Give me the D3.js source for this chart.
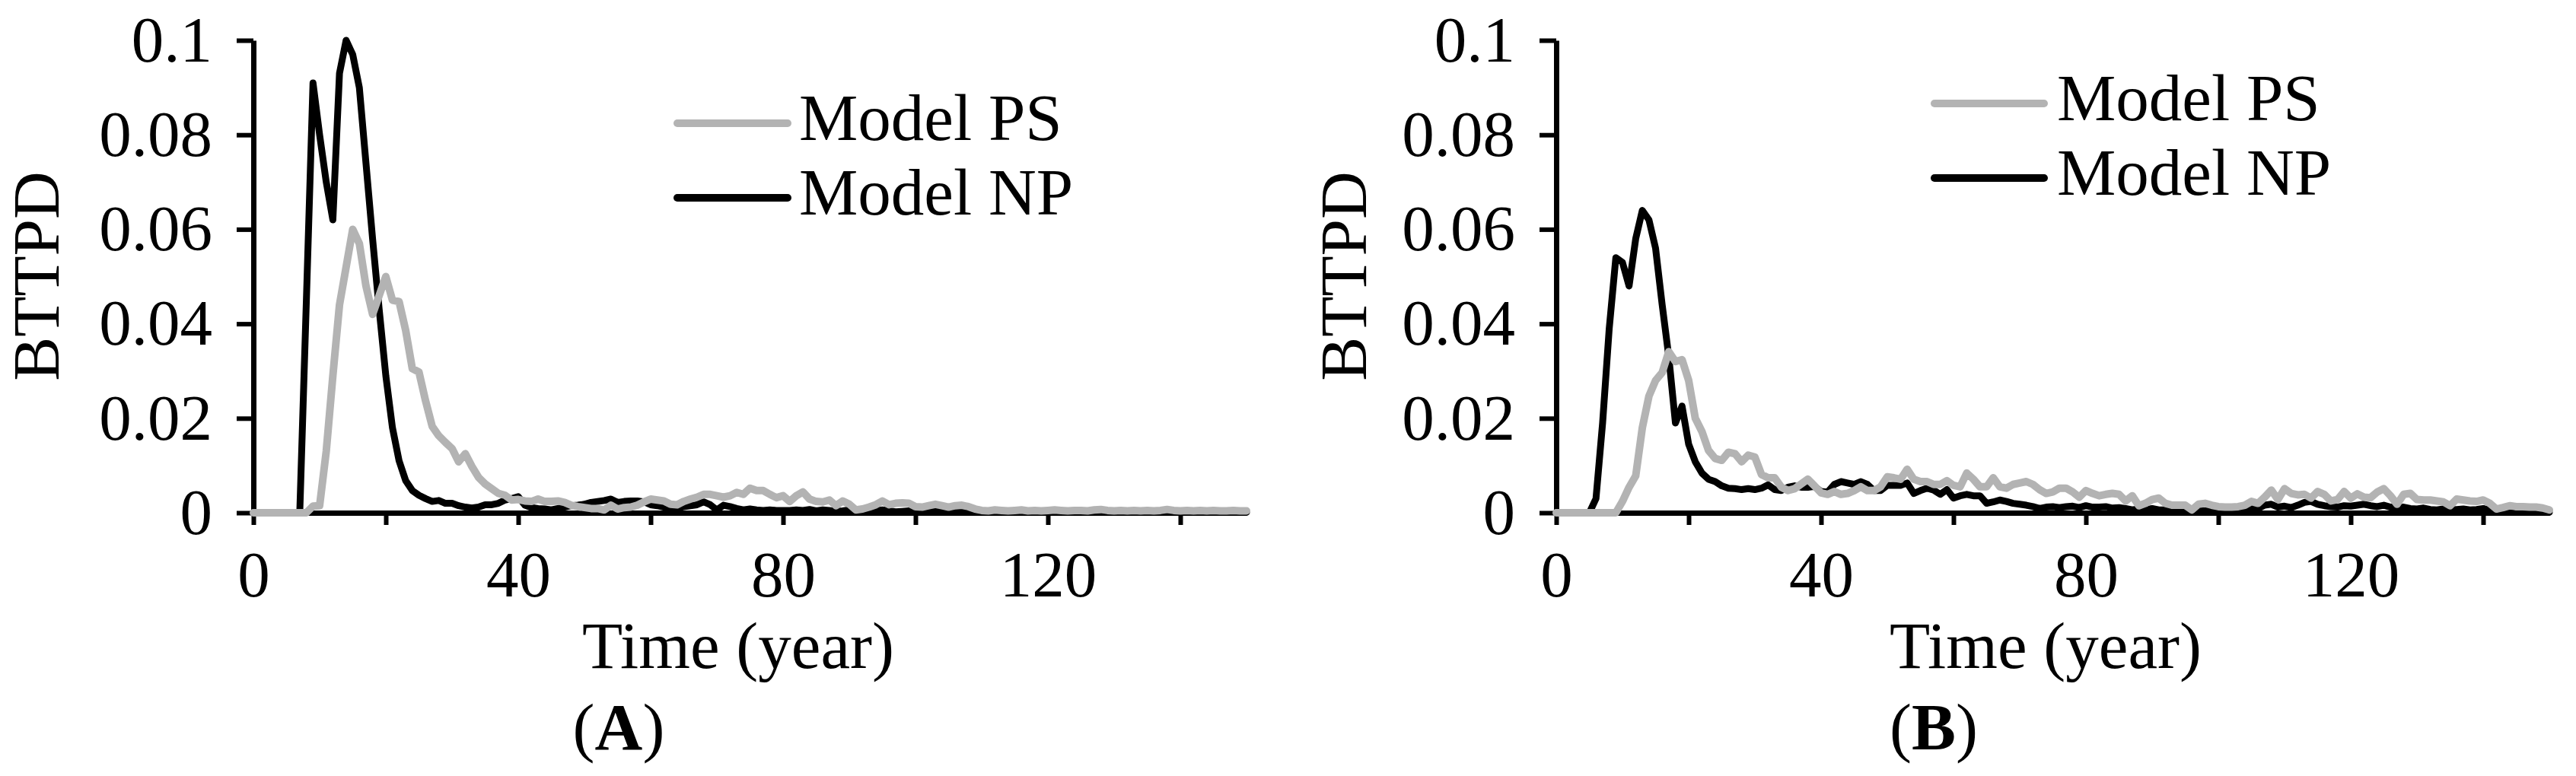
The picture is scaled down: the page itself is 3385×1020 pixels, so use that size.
<!DOCTYPE html>
<html>
<head>
<meta charset="utf-8">
<script src="https://cdn.jsdelivr.net/npm/d3@7"></script>
<style>
  body { margin: 0; background: #fff; }
  svg text { font-family: "Liberation Serif", "Times New Roman", serif; }
</style>
</head>
<body>
<div id="chart"></div>
<script>
// yearly time steps
const years = d3.range(0, 151);

const xTicks = [0, 20, 40, 60, 80, 100, 120, 140];
const xTickLabels = [0, 40, 80, 120];
const yTicks = [0, 0.02, 0.04, 0.06, 0.08, 0.1];
const yTickLabels = ['0', '0.02', '0.04', '0.06', '0.08', '0.1'];
const seriesNames = ['Model PS', 'Model NP'];

// panel A
const psA = [0,0,0,0,0,0,0,0,0,
  0.0014,0.0015,0.013,0.029,0.044,0.052,0.060,0.057,0.048,0.042,0.046,
  0.050,0.045,0.0447,0.0386,0.0305,0.0298,0.0237,0.0183,0.0163,0.0149,
  0.0136,0.0108,0.0125,0.0098,0.0075,0.0061,0.0051,0.0041,0.0037,0.0027,
  0.0028,0.0025,0.0024,0.0029,0.0024,0.0024,0.0025,0.0022,0.0016,0.0013,
  0.0011,0.0009,0.0009,0.0006,0.0016,0.0008,0.0011,0.0012,0.0016,0.0023,
  0.0029,0.0027,0.0025,0.0018,0.0017,0.0024,0.0029,0.0033,0.0039,0.0039,
  0.0036,0.0033,0.0036,0.0043,0.0039,0.0052,0.0047,0.0047,0.0039,0.0032,
  0.0036,0.0024,0.0036,0.0044,0.0029,0.0024,0.0023,0.0027,0.0015,0.0025,
  0.0018,0.0006,0.0008,0.0012,0.0017,0.0025,0.0017,0.0020,0.0021,0.0020,
  0.0013,0.0012,0.0015,0.0018,0.0015,0.0012,0.0015,0.0016,0.0013,0.0008,
  0.0005,0.0004,0.0006,0.0005,0.0004,0.0005,0.0006,0.0004,0.0005,0.0004,
  0.0005,0.0006,0.0005,0.0004,0.0005,0.0005,0.0004,0.0006,0.0007,0.0005,
  0.0004,0.0005,0.0004,0.0005,0.0004,0.0005,0.0004,0.0005,0.0007,0.0005,
  0.0004,0.0005,0.0004,0.0005,0.0004,0.0005,0.0004,0.0004,0.0005,0.0004,0.0004];

const npA = [0,0,0,0,0,0,0,0,
  0.045,0.091,0.080,0.070,0.062,0.093,0.100,0.097,0.090,0.074,0.058,0.043,
  0.029,0.018,0.011,0.0068,0.0047,0.0037,0.0030,0.0024,0.0026,0.0020,
  0.0020,0.0015,0.0012,0.0010,0.0012,0.0017,0.0017,0.0020,0.0027,0.0030,
  0.0034,0.0016,0.0011,0.0009,0.0008,0.0006,0.0009,0.0012,0.0015,0.0016,
  0.0018,0.0022,0.0024,0.0026,0.0029,0.0022,0.0024,0.0025,0.0025,0.0023,
  0.0017,0.0015,0.0012,0.0008,0.0009,0.0013,0.0015,0.0017,0.0023,0.0017,
  0.0006,0.0016,0.0013,0.0009,0.0006,0.0008,0.0006,0.0005,0.0006,0.0005,
  0.0005,0.0005,0.0006,0.0005,0.0007,0.0004,0.0006,0.0005,0.0003,0.0004,
  0.0006,0.0004,0.0003,0.0005,0.0004,0.0006,0.0004,0.0002,0.0003,0.0004,
  0.0003,0.0005,0.0004,0.0003,0.0002,0.0003,0.0002,0.0003,0.0002,0.0003,
  0.0002,0.0001,0.0003,0.0002,0.0002,0.0001,0.0002,0.0003,0.0002,0.0001,
  0.0002,0.0002,0.0001,0.0002,0.0003,0.0002,0.0001,0.0002,0.0001,0.0002,
  0.0001,0.0002,0.0001,0.0001,0.0002,0.0001,0.0001,0.0002,0.0001,0.0001,
  0.0001,0.0001,0.0002,0.0001,0.0001,0.0001,0.0001,0.0001,0.0001,0.0001,0.0001];

// panel B
const psB = [0,0,0,0,0,0,0,0,0,0,
  0.0024,0.0054,0.0078,0.018,0.0247,0.028,0.0297,0.0341,0.032,0.0324,
  0.028,0.020,0.0172,0.0132,0.0115,0.0111,0.0128,0.0125,0.0108,0.0122,
  0.0118,0.0081,0.0074,0.0074,0.0054,0.0047,0.0051,0.0061,0.0071,0.0057,
  0.0042,0.0039,0.0045,0.0039,0.0041,0.0047,0.0055,0.0047,0.0047,0.0055,
  0.0076,0.0074,0.0071,0.0092,0.0071,0.0066,0.0066,0.0060,0.0060,0.0068,
  0.0058,0.0055,0.0084,0.0071,0.0055,0.0055,0.0074,0.0055,0.0052,0.0060,
  0.0063,0.0066,0.0060,0.0049,0.0041,0.0044,0.0052,0.0052,0.0044,0.0033,
  0.0047,0.0041,0.0036,0.0039,0.0041,0.0039,0.0025,0.0036,0.0015,0.0020,
  0.0028,0.0031,0.0020,0.0016,0.0016,0.0016,0.0006,0.0018,0.0020,0.0016,
  0.0013,0.0012,0.0012,0.0013,0.0016,0.0024,0.0020,0.0033,0.0048,0.0028,
  0.0051,0.0041,0.0038,0.0039,0.0031,0.0045,0.0039,0.0025,0.0028,0.0045,
  0.0031,0.0040,0.0033,0.0032,0.0044,0.0051,0.0036,0.0018,0.0039,0.0041,
  0.0028,0.0027,0.0027,0.0025,0.0023,0.0015,0.0029,0.0027,0.0025,0.0024,
  0.0027,0.0020,0.0008,0.0011,0.0015,0.0013,0.0013,0.0012,0.0012,0.0010,0.0006];

const npB = [0,0,0,0,0,0,
  0.003,0.019,0.039,0.054,
  0.053,0.048,0.058,0.064,0.062,0.056,0.044,0.033,0.019,0.0226,
  0.0145,0.0108,0.0084,0.0071,0.0066,0.0057,0.0052,0.0051,0.0049,0.0051,
  0.0049,0.0052,0.0059,0.0049,0.0047,0.0054,0.0057,0.0054,0.0054,0.0056,
  0.0045,0.0044,0.0060,0.0066,0.0063,0.0060,0.0066,0.0060,0.0047,0.0047,
  0.0058,0.0058,0.0058,0.0063,0.0041,0.0047,0.0052,0.0048,0.0039,0.0049,
  0.0031,0.0036,0.0039,0.0036,0.0036,0.0020,0.0023,0.0027,0.0024,0.0020,
  0.0018,0.0016,0.0013,0.0009,0.0012,0.0013,0.0011,0.0013,0.0014,0.0011,
  0.0015,0.0012,0.0012,0.0013,0.0010,0.0011,0.0009,0.0006,0.0008,0.0006,
  0.0009,0.0006,0.0006,0.0005,0.0006,0.0004,0.0004,0.0005,0.0004,0.0006,
  0.0005,0.0005,0.0004,0.0006,0.0008,0.0010,0.0009,0.0016,0.0018,0.0012,
  0.0014,0.0011,0.0016,0.0022,0.0024,0.0018,0.0015,0.0013,0.0012,0.0015,
  0.0014,0.0016,0.0018,0.0015,0.0013,0.0016,0.0012,0.0010,0.0012,0.0009,
  0.0008,0.0010,0.0007,0.0006,0.0008,0.0006,0.0007,0.0008,0.0006,0.0007,
  0.0009,0.0005,0.0003,0.0004,0.0003,0.0002,0.0003,0.0002,0.0002,0.0001,0.0001];

const width = 3385, height = 1020;
const plotTop = 53, plotH = 621, plotW = 1305;
const fontSize = 85;
const grey = '#b3b3b3';

const panels = [
  { tag: 'A', left: 333, ps: psA, np: npA,
    legend: { x1: 890, x2: 1035, y: 162, tx: 1050 },
    yLabelX: 77, xTitleX: 970, tagX: 813 },
  { tag: 'B', left: 2045, ps: psB, np: npB,
    legend: { x1: 2542, x2: 2686, y: 136, tx: 2703 },
    yLabelX: 1795, xTitleX: 2688, tagX: 2541 }
];

const svg = d3.select('#chart')
  .append('svg')
  .attr('width', width)
  .attr('height', height)
  .style('background', '#fff');

const x = d3.scaleLinear().domain([0, 150]).range([0, plotW]);
const y = d3.scaleLinear().domain([0, 0.1]).range([plotH, 0]);

const styleAxis = (g) => {
  g.attr('font-size', fontSize)
    .attr('font-family', '"Liberation Serif", "Times New Roman", serif');
  g.select('.domain').attr('stroke', '#000').attr('stroke-width', 7);
  g.selectAll('.tick line').attr('stroke', '#000').attr('stroke-width', 6);
  g.selectAll('.tick text').attr('fill', '#000');
};

panels.forEach(p => {
  const chart = svg.append('g')
    .attr('transform', `translate(${p.left},${plotTop})`);

  // axes first so the curves sit on top of them
  const xAxis = d3.axisBottom(x)
    .tickValues(xTicks)
    .tickSize(16)
    .tickSizeOuter(0)
    .tickPadding(34)
    .tickFormat(d => xTickLabels.includes(d) ? d : '');

  chart.append('g')
    .attr('transform', `translate(0,${plotH})`)
    .call(xAxis)
    .call(styleAxis);

  const yAxis = d3.axisLeft(y)
    .tickValues(yTicks)
    .tickSize(22)
    .tickSizeOuter(0)
    .tickPadding(32)
    .tickFormat((d, i) => yTickLabels[i]);

  chart.append('g')
    .call(yAxis)
    .call(styleAxis);

  const line = d3.line()
    .x((d, i) => x(years[i]))
    .y(d => y(d));

  // black first, grey drawn on top
  chart.append('path')
    .datum(p.np)
    .attr('d', line)
    .attr('fill', 'none')
    .attr('stroke', '#000')
    .attr('stroke-width', 9)
    .attr('stroke-linejoin', 'round')
    .attr('stroke-linecap', 'round');

  chart.append('path')
    .datum(p.ps)
    .attr('d', line)
    .attr('fill', 'none')
    .attr('stroke', grey)
    .attr('stroke-width', 10)
    .attr('stroke-linejoin', 'round')
    .attr('stroke-linecap', 'round');

  // legend
  const lg = p.legend;
  [grey, '#000'].forEach((c, i) => {
    const ly = lg.y + i * 98;
    svg.append('line')
      .attr('x1', lg.x1).attr('x2', lg.x2)
      .attr('y1', ly).attr('y2', ly)
      .attr('stroke', c)
      .attr('stroke-width', 10)
      .attr('stroke-linecap', 'round');
    svg.append('text')
      .attr('x', lg.tx)
      .attr('y', ly + 22)
      .attr('font-size', fontSize + 2)
      .text(seriesNames[i]);
  });

  // axis titles
  svg.append('text')
    .attr('transform', `translate(${p.yLabelX},363) rotate(-90)`)
    .attr('text-anchor', 'middle')
    .attr('font-size', fontSize + 2)
    .text('BTTPD');

  svg.append('text')
    .attr('x', p.xTitleX)
    .attr('y', 878)
    .attr('text-anchor', 'middle')
    .attr('font-size', fontSize + 2)
    .text('Time (year)');

  const t = svg.append('text')
    .attr('x', p.tagX)
    .attr('y', 985)
    .attr('text-anchor', 'middle')
    .attr('font-size', fontSize + 2);
  t.append('tspan').text('(');
  t.append('tspan').attr('font-weight', 'bold').text(p.tag);
  t.append('tspan').text(')');
});
</script>
</body>
</html>
